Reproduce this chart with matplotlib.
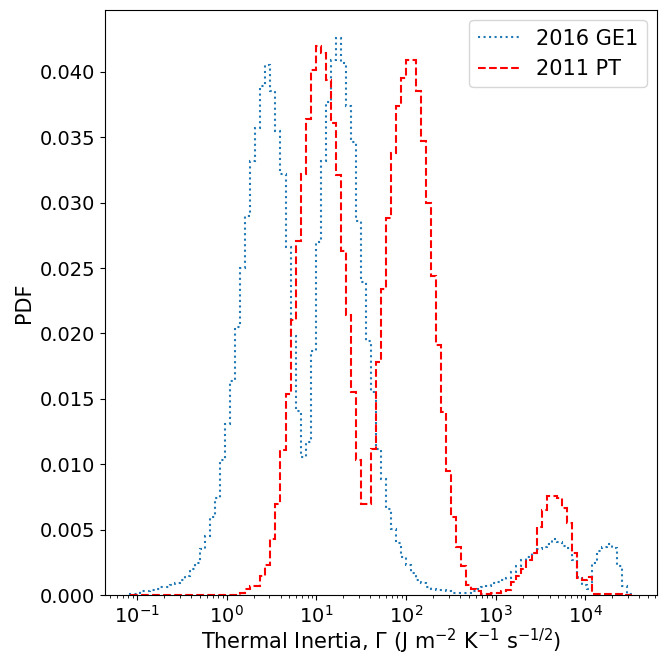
import numpy as np
import matplotlib
matplotlib.use("Agg")
import matplotlib.pyplot as plt

# shared log-spaced bins (100 bins)
bin_edges = np.logspace(-1.08, 4.52, 101)

# PDF per bin
pdf_2016ge1 = [
    0.0001, 0.0001, 0.0003, 0.0003, 0.0004, 0.0005, 0.0006, 0.0006, 0.0008, 0.0009,
    0.0012, 0.0015, 0.0020, 0.0025, 0.0035, 0.0045, 0.0060, 0.0074, 0.0103, 0.0131,
    0.0164, 0.0205, 0.0250, 0.0290, 0.0332, 0.0357, 0.0389, 0.0405, 0.0385, 0.0355,
    0.0322, 0.0266, 0.0198, 0.0141, 0.0106, 0.0117, 0.0187, 0.0270, 0.0332, 0.0377,
    0.0409, 0.0426, 0.0407, 0.0374, 0.0346, 0.0286, 0.0239, 0.0194, 0.0155, 0.0112,
    0.0089, 0.0066, 0.0051, 0.0040, 0.0029, 0.0023, 0.0017, 0.0012, 0.0009, 0.0006,
    0.0005, 0.0004, 0.0004, 0.0003, 0.0002, 0.0002, 0.0002, 0.0002, 0.0003, 0.0005,
    0.0006, 0.0007, 0.0009, 0.0010, 0.0012, 0.0013, 0.0018, 0.0022, 0.0027, 0.0029,
    0.0032, 0.0035, 0.0037, 0.0039, 0.0043, 0.0041, 0.0038, 0.0036, 0.0027, 0.0014,
    0.0008, 0.0005, 0.0025, 0.0034, 0.0037, 0.0039, 0.0036, 0.0022, 0.0007, 0.0001,
]

pdf_2011pt = [
    0.00005, 0.00005, 0.00005, 0.00005, 0.00005, 0.00005, 0.00005, 0.00005, 0.00005, 0.00005,
    0.00005, 0.00005, 0.00005, 0.00005, 0.00005, 0.00005, 0.00005, 0.00005, 0.00005, 0.00005,
    0.00005, 0.00005, 0.0002, 0.0005, 0.0007, 0.0007, 0.0015, 0.0023, 0.0043, 0.0070,
    0.0111, 0.0154, 0.0210, 0.0271, 0.0322, 0.0364, 0.0401, 0.0420, 0.0414, 0.0394,
    0.0361, 0.0321, 0.0263, 0.0214, 0.0155, 0.0103, 0.0070, 0.0070, 0.0112, 0.0178,
    0.0234, 0.0288, 0.0338, 0.0374, 0.0395, 0.0409, 0.0409, 0.0385, 0.0347, 0.0300,
    0.0244, 0.0191, 0.0140, 0.0095, 0.0060, 0.0037, 0.0022, 0.0008, 0.0005, 0.0003,
    0.0001, 0.0001, 0.0002, 0.0002, 0.0003, 0.0004, 0.0010, 0.0015, 0.0020, 0.0027,
    0.0032, 0.0052, 0.0065, 0.0076, 0.0076, 0.0074, 0.0067, 0.0055, 0.0032, 0.0013,
    0.0012, 0.0014, 0.0001, 0.0001, 0.0001, 0.0001, 0.0001, 0.0001, 0.0, 0.0,
]

labels = ["2016 GE1", "2011 PT"]

fig, ax = plt.subplots(figsize=(6.59, 6.52), dpi=100)
fig.subplots_adjust(left=0.159, right=0.997, top=0.985, bottom=0.087)

ax.stairs(pdf_2016ge1, bin_edges, color="tab:blue", linestyle=":",
          linewidth=1.5, label=labels[0])
ax.stairs(pdf_2011pt, bin_edges, color="red", linestyle="--",
          linewidth=1.5, label=labels[1])

ax.set_xscale("log")
ax.set_ylim(0, None)
ax.set_xlabel(r"Thermal Inertia, $\Gamma$ (J m$^{-2}$ K$^{-1}$ s$^{-1/2}$)",
              fontsize=15, labelpad=0)
ax.set_ylabel("PDF", fontsize=15)
ax.tick_params(axis="both", labelsize=14)
ax.legend(loc="upper right", fontsize=15)

fig.savefig("out.png")
